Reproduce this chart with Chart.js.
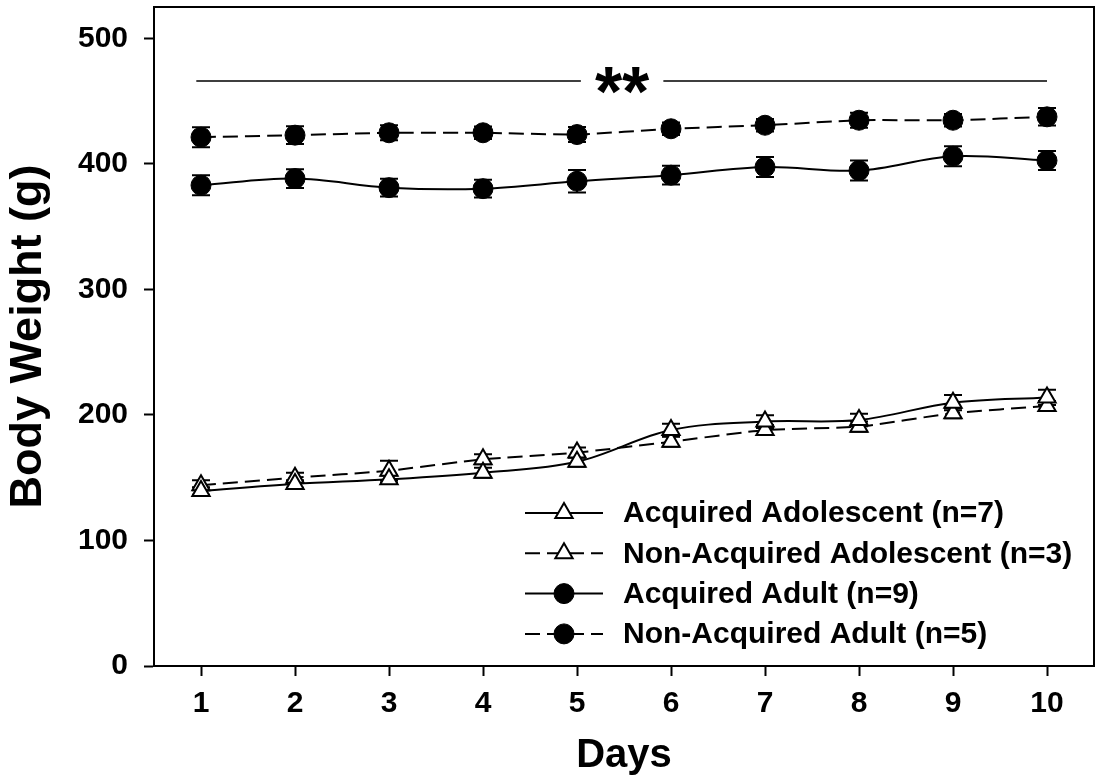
<!DOCTYPE html>
<html>
<head>
<meta charset="utf-8">
<script src="https://cdn.jsdelivr.net/npm/chart.js@4.4.1/dist/chart.umd.min.js"></script>
<style>
  html, body { margin: 0; padding: 0; background: #fff; }
  canvas { display: block; }
</style>
</head>
<body>
<canvas id="chart" width="1100" height="780"></canvas>
<script>
// values (body weight in g, mean ± SEM)
const days = [1, 2, 3, 4, 5, 6, 7, 8, 9, 10];
const yTicks = [0, 100, 200, 300, 400, 500];

const seriesNames = [
  'Acquired Adolescent (n=7)',
  'Non-Acquired Adolescent (n=3)',
  'Acquired Adult (n=9)',
  'Non-Acquired Adult (n=5)'
];

const acqAdolMean = [139.5, 145, 148.7, 154, 162.7, 188, 194.7, 196, 209.8, 214];
const acqAdolErr = [3, 3, 3, 4, 4, 5, 5, 5, 6, 6];
const nonAcqAdolMean = [144, 150, 155.6, 164.7, 170, 178.7, 188, 190.7, 201.4, 207.2];
const nonAcqAdolErr = [4, 4, 8, 4, 4, 4, 4, 4, 4, 4];
const acqAdultMean = [383, 388.3, 381.1, 380.3, 386.2, 391, 397.5, 394.7, 406.1, 402.7];
const acqAdultErr = [8, 7.5, 7, 7, 9, 7.5, 8, 8, 8, 7.5];
const nonAcqAdultMean = [421.3, 422.9, 424.8, 424.8, 423.4, 428, 430.8, 434.8, 434.8, 437.5];
const nonAcqAdultErr = [8, 7, 6, 5, 6, 5, 5, 6, 5, 7];

// significance bar across the adult vs adolescent groups
const sigFrom = 0.95;
const sigTo = 10;
const sigY = 466;
const sigLabelX = 5.48;
const sigLabel = '**';

const FONT = '"Liberation Sans", Arial, Helvetica, sans-serif';
const DASH = [15, 7];

Chart.defaults.font.family = FONT;
Chart.defaults.font.weight = 'bold';
Chart.defaults.color = '#000';

function series(label, mean, err, style, filled, dashed, tension) {
  return {
    label,
    data: days.map((d, i) => ({ x: d, y: mean[i] })),
    errors: err,
    borderColor: '#000',
    borderWidth: 2,
    borderDash: dashed ? DASH : [],
    tension,
    pointStyle: style,
    pointRadius: 10,
    pointHoverRadius: 10,
    pointBackgroundColor: filled ? '#000' : '#fff',
    pointBorderColor: '#000',
    pointBorderWidth: filled ? 1 : 2,
    fill: false
  };
}

const errorBars = {
  id: 'errorBars',
  beforeDatasetsDraw(chart) {
    const { ctx, scales: { y } } = chart;
    ctx.save();
    ctx.strokeStyle = '#000';
    ctx.lineWidth = 2;
    chart.data.datasets.forEach((ds, i) => {
      const meta = chart.getDatasetMeta(i);
      meta.data.forEach((pt, j) => {
        const v = ds.data[j].y;
        const top = y.getPixelForValue(v + ds.errors[j]);
        const bot = y.getPixelForValue(v - ds.errors[j]);
        ctx.beginPath();
        ctx.moveTo(pt.x, top); ctx.lineTo(pt.x, bot);
        ctx.moveTo(pt.x - 9, top); ctx.lineTo(pt.x + 9, top);
        ctx.moveTo(pt.x - 9, bot); ctx.lineTo(pt.x + 9, bot);
        ctx.stroke();
      });
    });
    ctx.restore();
  }
};

const frame = {
  id: 'frame',
  afterDraw(chart) {
    const { ctx, chartArea: a } = chart;
    ctx.save();
    ctx.strokeStyle = '#000';
    ctx.lineWidth = 2;
    ctx.beginPath();
    ctx.moveTo(a.left, a.top);
    ctx.lineTo(a.right, a.top);
    ctx.lineTo(a.right, a.bottom);
    ctx.stroke();
    ctx.restore();
  }
};

const sigBar = {
  id: 'sigBar',
  afterDraw(chart) {
    const { ctx, scales: { x, y } } = chart;
    const py = y.getPixelForValue(sigY);
    const cx = x.getPixelForValue(sigLabelX);
    ctx.save();
    ctx.font = 'bold 70px ' + FONT;
    const m = ctx.measureText(sigLabel);
    const half = m.width / 2 + 14;
    ctx.strokeStyle = '#000';
    ctx.lineWidth = 1.5;
    ctx.beginPath();
    ctx.moveTo(x.getPixelForValue(sigFrom), py); ctx.lineTo(cx - half, py);
    ctx.moveTo(cx + half, py); ctx.lineTo(x.getPixelForValue(sigTo), py);
    ctx.stroke();
    ctx.fillStyle = '#000';
    ctx.textAlign = 'center';
    ctx.textBaseline = 'alphabetic';
    const base = py - 1 + (m.actualBoundingBoxAscent - m.actualBoundingBoxDescent) / 2;
    ctx.fillText(sigLabel, cx, base);
    ctx.restore();
  }
};

// legend: line sample with marker, then label
const legendBox = {
  id: 'legendBox',
  afterDraw(chart) {
    const { ctx } = chart;
    const x0 = 525, len = 78, textX = 623, top = 513, step = 40.3;
    ctx.save();
    chart.data.datasets.forEach((ds, i) => {
      const yy = top + i * step;
      ctx.strokeStyle = '#000';
      ctx.lineWidth = 2;
      ctx.setLineDash(ds.borderDash);
      ctx.beginPath();
      ctx.moveTo(x0, yy); ctx.lineTo(x0 + len, yy);
      ctx.stroke();
      ctx.setLineDash([]);
      ctx.fillStyle = ds.pointBackgroundColor;
      ctx.lineWidth = ds.pointBorderWidth;
      Chart.helpers.drawPoint(ctx, {
        pointStyle: ds.pointStyle, radius: ds.pointRadius, rotation: 0,
        borderWidth: ds.pointBorderWidth
      }, x0 + len / 2, yy);
      ctx.fillStyle = '#000';
      ctx.font = 'bold 30px ' + FONT;
      ctx.textAlign = 'left';
      ctx.textBaseline = 'middle';
      ctx.fillText(ds.label, textX, yy + 1);
    });
    ctx.restore();
  }
};

new Chart(document.getElementById('chart'), {
  type: 'line',
  data: {
    datasets: [
      series(seriesNames[0], acqAdolMean, acqAdolErr, 'triangle', false, false, 0.35),
      series(seriesNames[1], nonAcqAdolMean, nonAcqAdolErr, 'triangle', false, true, 0.15),
      series(seriesNames[2], acqAdultMean, acqAdultErr, 'circle', true, false, 0.35),
      series(seriesNames[3], nonAcqAdultMean, nonAcqAdultErr, 'circle', true, true, 0.15)
    ]
  },
  options: {
    responsive: false,
    devicePixelRatio: 1,
    animation: false,
    events: [],
    layout: { autoPadding: false, padding: { top: 7, right: 6, left: 0, bottom: 0 } },
    plugins: { legend: { display: false }, tooltip: { enabled: false } },
    scales: {
      x: {
        type: 'linear',
        min: 0.5,
        max: 10.5,
        afterBuildTicks: s => { s.ticks = days.map(v => ({ value: v })); },
        afterFit: s => { s.height = 114; s.paddingLeft = 0; s.paddingRight = 0; },
        border: { display: true, color: '#000', width: 2 },
        grid: { drawOnChartArea: false, drawTicks: true, tickLength: 10, tickWidth: 2, tickColor: '#000' },
        ticks: { font: { size: 30, weight: 'bold' }, padding: 10, maxRotation: 0, callback: v => String(v) },
        title: { display: true, text: 'Days', font: { size: 40, weight: 'bold' }, padding: { top: 0, bottom: 0 } }
      },
      y: {
        min: 0,
        max: 525,
        afterBuildTicks: s => { s.ticks = yTicks.map(v => ({ value: v })); },
        afterFit: s => { s.width = 154; s.paddingTop = 0; s.paddingBottom = 0; },
        border: { display: true, color: '#000', width: 2 },
        grid: { drawOnChartArea: false, drawTicks: true, tickLength: 10, tickWidth: 2, tickColor: '#000' },
        ticks: { font: { size: 30, weight: 'bold' }, padding: 16, callback: v => String(v) },
        title: { display: true, text: 'Body Weight (g)', font: { size: 45, weight: 'bold' }, padding: { top: 2, bottom: 0 } }
      }
    }
  },
  plugins: [errorBars, frame, sigBar, legendBox]
});
</script>
</body>
</html>
